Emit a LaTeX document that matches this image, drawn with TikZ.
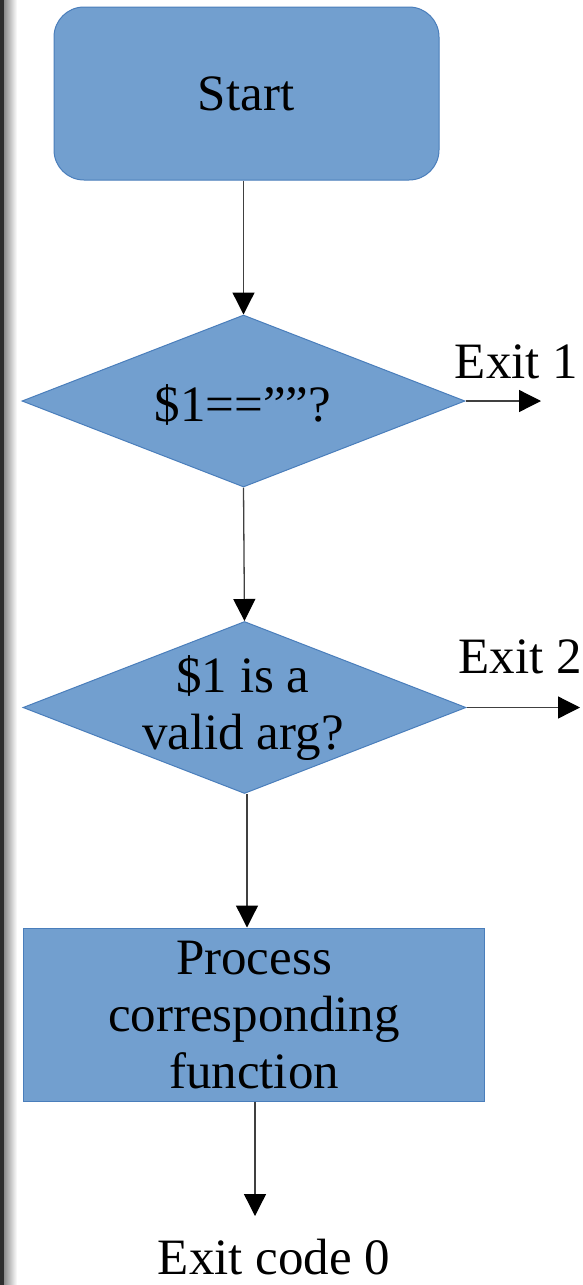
\documentclass[tikz,border=0pt]{standalone}
\usepackage{fontspec}
\setmainfont{Liberation Serif}
\usetikzlibrary{shapes.geometric,arrows.meta}

\definecolor{boxblue}{HTML}{729FCF}
\definecolor{edgeblue}{HTML}{4A7EBB}

\tikzset{
  box/.style={draw=edgeblue,fill=boxblue,line width=1pt,inner sep=0pt},
  decision/.style={box,diamond,minimum width=443pt,minimum height=172pt},
  txt/.style={inner sep=0pt,font=\fontsize{51}{57}\selectfont},
  mtxt/.style={txt,align=center},
  arr/.style={draw=black!75,line width=1.3pt,-{Triangle[length=22pt,width=22pt,color=black]}}
}

\begin{document}
\begin{tikzpicture}[x=1pt,y=-1pt]
  \useasboundingbox (0,0) rectangle (583,1285);
  \fill[white] (0,0) rectangle (583,1285);
  \fill[black!82] (0,0) rectangle (4,1285);
  \shade[left color=black!45,right color=white] (4,0) rectangle (17,1285);

  \node[box,rounded corners=30pt,minimum width=385pt,minimum height=173pt] (start) at (246.5,93.5) {};
  \node[txt] (startt) at (246,94) {Start};
  \node[decision] (d1) at (243.5,401) {};
  \node[txt] (d1t) at (243,405) {\$1==””?};
  \node[decision] (d2) at (244.5,707.5) {};
  \node[mtxt] (d2t) at (243,708) {\$1 is a\\valid arg?};
  \node[box,minimum width=461pt,minimum height=173pt] (proc) at (253.5,1014.5) {};
  \node[mtxt] (proct) at (254,1015) {Process\\corresponding\\function};
  \node[txt] (exit1) at (516.5,362) {Exit 1};
  \node[txt] (exit2) at (520,657) {Exit 2};
  \node[txt] (exit0) at (274,1257) {Exit code 0};
  \coordinate (e1) at (541,401);
  \coordinate (e2) at (580,707.5);
  \coordinate (e0) at (255,1216);

  \draw[arr] (start.south -| d1.north) -- (d1.north);
  \draw[arr] (d1.south) -- (d2.north);
  \draw[arr] (d2.south -| 247,0) -- (proc.north -| 247,0);
  \draw[arr] (proc.south -| e0) -- (e0);
  \draw[arr] (d1.east) -- (e1);
  \draw[arr] (d2.east) -- (e2);
\end{tikzpicture}
\end{document}
